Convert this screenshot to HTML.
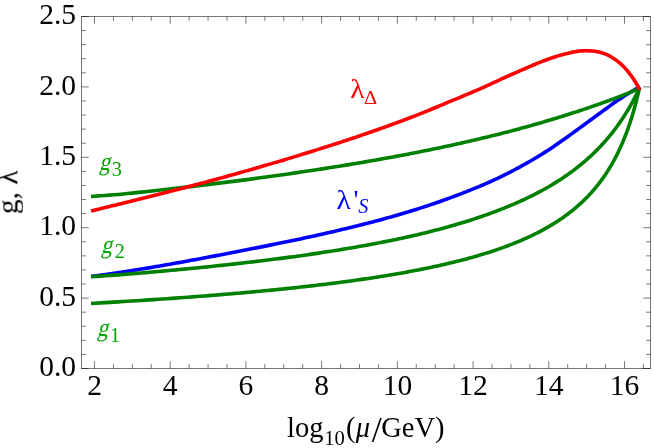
<!DOCTYPE html>
<html><head><meta charset="utf-8"><title>plot</title>
<style>
html,body{margin:0;padding:0;background:#fff;}
body{width:654px;height:448px;overflow:hidden;}
svg{display:block;}
text{font-family:"Liberation Serif",serif;font-size:29.5px;fill:#000;}
.txt{will-change:transform;}
.sub{font-size:20.2px;}
.it{font-style:italic;}
</style></head><body>
<svg width="654" height="448" viewBox="0 0 654 448">
<rect width="654" height="448" fill="#fff"/>
<g fill="none" stroke-width="3.6" stroke-linecap="butt" stroke-linejoin="round">
<path stroke="#0000ff" d="M91.00,276.42 L93.51,276.10 L96.01,275.78 L98.52,275.45 L101.03,275.11 L103.53,274.77 L106.04,274.42 L108.55,274.07 L111.05,273.72 L113.56,273.35 L116.07,272.99 L118.58,272.62 L121.08,272.24 L123.59,271.86 L126.10,271.48 L128.60,271.09 L131.11,270.70 L133.62,270.30 L136.12,269.90 L138.63,269.50 L141.14,269.09 L143.64,268.68 L146.15,268.27 L148.66,267.85 L151.16,267.43 L153.67,267.01 L156.18,266.58 L158.68,266.15 L161.19,265.72 L163.70,265.28 L166.21,264.85 L168.71,264.41 L171.22,263.96 L173.73,263.52 L176.23,263.07 L178.74,262.62 L181.25,262.17 L183.75,261.72 L186.26,261.26 L188.77,260.80 L191.27,260.34 L193.78,259.88 L196.29,259.42 L198.79,258.95 L201.30,258.48 L203.81,258.01 L206.32,257.54 L208.82,257.07 L211.33,256.60 L213.84,256.12 L216.34,255.64 L218.85,255.16 L221.36,254.68 L223.86,254.20 L226.37,253.72 L228.88,253.23 L231.38,252.75 L233.89,252.26 L236.40,251.78 L238.90,251.29 L241.41,250.81 L243.92,250.32 L246.42,249.83 L248.93,249.34 L251.44,248.84 L253.95,248.35 L256.45,247.86 L258.96,247.36 L261.47,246.86 L263.97,246.36 L266.48,245.86 L268.99,245.36 L271.49,244.86 L274.00,244.35 L276.51,243.84 L279.01,243.33 L281.52,242.82 L284.03,242.31 L286.53,241.79 L289.04,241.27 L291.55,240.75 L294.05,240.23 L296.56,239.70 L299.07,239.17 L301.58,238.64 L304.08,238.10 L306.59,237.56 L309.10,237.02 L311.60,236.47 L314.11,235.92 L316.62,235.37 L319.12,234.81 L321.63,234.25 L324.14,233.69 L326.64,233.12 L329.15,232.55 L331.66,231.97 L334.16,231.39 L336.67,230.81 L339.18,230.22 L341.68,229.62 L344.19,229.03 L346.70,228.43 L349.21,227.82 L351.71,227.21 L354.22,226.59 L356.73,225.97 L359.23,225.35 L361.74,224.72 L364.25,224.08 L366.75,223.44 L369.26,222.79 L371.77,222.14 L374.27,221.48 L376.78,220.81 L379.29,220.14 L381.79,219.46 L384.30,218.77 L386.81,218.08 L389.32,217.38 L391.82,216.68 L394.33,215.97 L396.84,215.25 L399.34,214.52 L401.85,213.78 L404.36,213.04 L406.86,212.29 L409.37,211.53 L411.88,210.76 L414.38,209.98 L416.89,209.20 L419.40,208.40 L421.90,207.60 L424.41,206.78 L426.92,205.96 L429.42,205.13 L431.93,204.28 L434.44,203.43 L436.95,202.56 L439.45,201.69 L441.96,200.80 L444.47,199.91 L446.97,199.01 L449.48,198.09 L451.99,197.17 L454.49,196.23 L457.00,195.29 L459.51,194.33 L462.01,193.36 L464.52,192.38 L467.03,191.39 L469.53,190.39 L472.04,189.37 L474.55,188.36 L477.05,187.34 L479.56,186.31 L482.07,185.26 L484.58,184.20 L487.08,183.12 L489.59,182.01 L492.10,180.87 L494.60,179.72 L497.11,178.55 L499.62,177.35 L502.12,176.14 L504.63,174.91 L507.14,173.65 L509.64,172.38 L512.15,171.08 L514.66,169.77 L517.16,168.43 L519.67,167.07 L522.18,165.70 L524.68,164.30 L527.19,162.88 L529.70,161.44 L532.21,159.98 L534.71,158.50 L537.22,157.01 L539.73,155.49 L542.23,153.95 L544.74,152.38 L547.25,150.80 L549.75,149.19 L552.26,147.53 L554.77,145.83 L557.27,144.08 L559.78,142.31 L562.29,140.52 L564.79,138.73 L567.30,136.94 L569.81,135.15 L572.32,133.34 L574.82,131.52 L577.33,129.70 L579.84,127.87 L582.34,126.04 L584.85,124.20 L587.36,122.37 L589.86,120.53 L592.37,118.69 L594.88,116.85 L597.38,115.02 L599.89,113.18 L602.40,111.35 L604.90,109.51 L607.41,107.68 L609.92,105.86 L612.42,104.06 L614.93,102.30 L617.44,100.56 L619.95,98.88 L622.45,97.23 L624.96,95.61 L627.47,94.02 L629.97,92.47 L632.48,90.95 L634.99,89.48 L637.49,88.04 L640.00,86.66"/>
<path stroke="#008000" d="M91.00,303.45 L95.65,303.19 L100.27,302.92 L104.88,302.66 L109.46,302.39 L114.02,302.12 L118.56,301.85 L123.07,301.57 L127.57,301.30 L132.04,301.02 L136.50,300.74 L140.93,300.45 L145.34,300.17 L149.73,299.88 L154.10,299.59 L158.44,299.30 L162.77,299.01 L167.07,298.71 L171.35,298.41 L175.61,298.11 L179.85,297.81 L184.07,297.50 L188.27,297.19 L192.45,296.88 L196.60,296.57 L200.74,296.25 L204.85,295.93 L208.94,295.61 L213.01,295.29 L217.06,294.96 L221.09,294.64 L225.09,294.30 L229.08,293.97 L233.05,293.63 L236.99,293.29 L240.91,292.95 L244.82,292.60 L248.70,292.26 L252.56,291.91 L256.40,291.55 L260.22,291.19 L264.01,290.83 L267.79,290.47 L271.55,290.10 L275.28,289.73 L279.00,289.36 L282.69,288.99 L286.36,288.61 L290.01,288.22 L293.65,287.84 L297.26,287.45 L300.85,287.06 L304.42,286.66 L307.97,286.26 L311.49,285.86 L315.00,285.45 L318.49,285.04 L321.95,284.63 L325.40,284.21 L328.83,283.79 L332.23,283.36 L335.62,282.94 L338.98,282.50 L342.32,282.07 L345.65,281.62 L348.95,281.18 L352.23,280.73 L355.49,280.28 L358.74,279.82 L361.96,279.36 L365.16,278.89 L368.34,278.42 L371.50,277.95 L374.64,277.47 L377.76,276.98 L380.86,276.50 L383.94,276.00 L387.00,275.51 L390.04,275.00 L393.06,274.50 L396.06,273.98 L399.04,273.47 L402.00,272.94 L404.94,272.42 L407.86,271.89 L410.76,271.35 L413.64,270.81 L416.50,270.26 L419.34,269.70 L422.16,269.14 L424.96,268.58 L427.74,268.01 L430.50,267.43 L433.24,266.85 L435.96,266.26 L438.66,265.67 L441.34,265.07 L444.00,264.46 L446.65,263.85 L449.27,263.23 L451.87,262.61 L454.46,261.98 L457.02,261.34 L459.56,260.70 L462.09,260.05 L464.60,259.39 L467.08,258.72 L469.55,258.05 L472.00,257.37 L474.42,256.69 L476.83,256.00 L479.22,255.30 L481.59,254.59 L483.94,253.87 L486.27,253.15 L488.59,252.42 L490.88,251.68 L493.15,250.94 L495.41,250.18 L497.64,249.42 L499.86,248.65 L502.06,247.87 L504.23,247.08 L506.39,246.29 L508.53,245.48 L510.66,244.67 L512.76,243.85 L514.84,243.02 L516.91,242.18 L518.95,241.33 L520.98,240.47 L522.99,239.60 L524.98,238.72 L526.95,237.84 L528.90,236.94 L530.84,236.03 L532.75,235.12 L534.65,234.19 L536.53,233.25 L538.38,232.30 L540.23,231.35 L542.05,230.38 L543.85,229.40 L545.64,228.41 L547.40,227.41 L549.15,226.39 L550.88,225.37 L552.60,224.34 L554.29,223.29 L555.97,222.23 L557.62,221.16 L559.26,220.08 L560.88,218.99 L562.49,217.89 L564.07,216.77 L565.64,215.64 L567.19,214.50 L568.72,213.35 L570.23,212.18 L571.73,211.00 L573.21,209.81 L574.67,208.61 L576.11,207.40 L577.53,206.17 L578.94,204.93 L580.33,203.67 L581.70,202.41 L583.05,201.13 L584.39,199.84 L585.71,198.53 L587.01,197.21 L588.29,195.88 L589.56,194.54 L590.81,193.18 L592.04,191.81 L593.26,190.43 L594.45,189.04 L595.63,187.63 L596.80,186.21 L597.94,184.78 L599.07,183.33 L600.18,181.88 L601.28,180.41 L602.36,178.93 L603.42,177.44 L604.46,175.94 L605.49,174.42 L606.50,172.90 L607.49,171.37 L608.47,169.82 L609.43,168.27 L610.37,166.70 L611.30,165.13 L612.21,163.55 L613.11,161.96 L613.99,160.37 L614.85,158.77 L615.69,157.16 L616.52,155.54 L617.34,153.92 L618.13,152.30 L618.92,150.67 L619.68,149.04 L620.43,147.41 L621.16,145.77 L621.88,144.14 L622.58,142.50 L623.27,140.87 L623.94,139.24 L624.59,137.62 L625.23,136.00 L625.86,134.38 L626.47,132.77 L627.06,131.17 L627.64,129.58 L628.20,128.00 L628.75,126.44 L629.28,124.88 L629.80,123.34 L630.30,121.82 L630.79,120.31 L631.26,118.82 L631.72,117.36 L632.16,115.91 L632.59,114.49 L633.00,113.10 L633.40,111.73 L633.79,110.38 L634.16,109.07 L634.52,107.79 L634.86,106.54 L635.19,105.32 L635.51,104.14 L635.81,103.00 L636.10,101.89 L636.37,100.82 L636.64,99.79 L636.88,98.80 L637.12,97.86 L637.34,96.96 L637.55,96.10 L637.75,95.29 L637.93,94.52 L638.10,93.80 L638.26,93.13 L638.41,92.50 L638.54,91.92 L638.66,91.39 L638.77,90.91 L638.87,90.48 L638.96,90.09 L639.04,89.75 L639.11,89.46 L639.16,89.21 L639.21,89.00 L639.24,88.84 L639.27,88.72 L639.29,88.64 L639.30,88.60 L639.30,88.59"/>
<path stroke="#008000" d="M91.00,276.70 L95.65,276.39 L100.27,276.09 L104.88,275.78 L109.46,275.47 L114.02,275.15 L118.56,274.83 L123.07,274.49 L127.57,274.14 L132.04,273.77 L136.50,273.40 L140.93,273.02 L145.34,272.65 L149.73,272.27 L154.10,271.89 L158.44,271.50 L162.77,271.12 L167.07,270.73 L171.35,270.33 L175.61,269.94 L179.85,269.54 L184.07,269.14 L188.27,268.74 L192.45,268.33 L196.60,267.92 L200.74,267.51 L204.85,267.09 L208.94,266.67 L213.01,266.25 L217.06,265.83 L221.09,265.40 L225.09,264.97 L229.08,264.54 L233.05,264.10 L236.99,263.66 L240.91,263.22 L244.82,262.77 L248.70,262.32 L252.56,261.87 L256.40,261.41 L260.22,260.95 L264.01,260.49 L267.79,260.02 L271.55,259.55 L275.28,259.08 L279.00,258.60 L282.69,258.12 L286.36,257.64 L290.01,257.15 L293.65,256.66 L297.26,256.17 L300.85,255.67 L304.42,255.16 L307.97,254.66 L311.49,254.15 L315.00,253.63 L318.49,253.12 L321.95,252.59 L325.40,252.07 L328.83,251.54 L332.23,251.01 L335.62,250.47 L338.98,249.93 L342.32,249.38 L345.65,248.83 L348.95,248.27 L352.23,247.72 L355.49,247.15 L358.74,246.58 L361.96,246.01 L365.16,245.44 L368.34,244.86 L371.50,244.27 L374.64,243.68 L377.76,243.09 L380.86,242.49 L383.94,241.88 L387.00,241.28 L390.04,240.66 L393.06,240.04 L396.06,239.42 L399.04,238.79 L402.00,238.16 L404.94,237.52 L407.86,236.88 L410.76,236.23 L413.64,235.57 L416.50,234.91 L419.34,234.24 L422.16,233.57 L424.96,232.89 L427.74,232.20 L430.50,231.51 L433.24,230.81 L435.96,230.11 L438.66,229.40 L441.34,228.68 L444.00,227.96 L446.65,227.24 L449.27,226.51 L451.87,225.77 L454.46,225.02 L457.02,224.27 L459.56,223.52 L462.09,222.76 L464.60,221.99 L467.08,221.22 L469.55,220.44 L472.00,219.66 L474.42,218.87 L476.83,218.07 L479.22,217.27 L481.59,216.47 L483.94,215.65 L486.27,214.84 L488.59,214.01 L490.88,213.18 L493.15,212.34 L495.41,211.50 L497.64,210.65 L499.86,209.80 L502.06,208.94 L504.23,208.08 L506.39,207.20 L508.53,206.33 L510.66,205.44 L512.76,204.55 L514.84,203.66 L516.91,202.76 L518.95,201.85 L520.98,200.93 L522.99,200.01 L524.98,199.09 L526.95,198.15 L528.90,197.22 L530.84,196.27 L532.75,195.32 L534.65,194.36 L536.53,193.39 L538.38,192.42 L540.23,191.44 L542.05,190.46 L543.85,189.46 L545.64,188.47 L547.40,187.46 L549.15,186.45 L550.88,185.44 L552.60,184.41 L554.29,183.38 L555.97,182.35 L557.62,181.31 L559.26,180.26 L560.88,179.21 L562.49,178.15 L564.07,177.08 L565.64,176.01 L567.19,174.94 L568.72,173.86 L570.23,172.77 L571.73,171.68 L573.21,170.58 L574.67,169.48 L576.11,168.37 L577.53,167.26 L578.94,166.14 L580.33,165.02 L581.70,163.90 L583.05,162.77 L584.39,161.63 L585.71,160.50 L587.01,159.36 L588.29,158.21 L589.56,157.07 L590.81,155.92 L592.04,154.77 L593.26,153.61 L594.45,152.46 L595.63,151.30 L596.80,150.14 L597.94,148.98 L599.07,147.81 L600.18,146.65 L601.28,145.49 L602.36,144.32 L603.42,143.16 L604.46,142.00 L605.49,140.84 L606.50,139.68 L607.49,138.52 L608.47,137.36 L609.43,136.21 L610.37,135.05 L611.30,133.91 L612.21,132.76 L613.11,131.62 L613.99,130.49 L614.85,129.36 L615.69,128.23 L616.52,127.11 L617.34,126.00 L618.13,124.90 L618.92,123.80 L619.68,122.71 L620.43,121.63 L621.16,120.55 L621.88,119.49 L622.58,118.44 L623.27,117.39 L623.94,116.36 L624.59,115.34 L625.23,114.34 L625.86,113.34 L626.47,112.36 L627.06,111.39 L627.64,110.44 L628.20,109.50 L628.75,108.58 L629.28,107.67 L629.80,106.78 L630.30,105.90 L630.79,105.05 L631.26,104.21 L631.72,103.39 L632.16,102.58 L632.59,101.80 L633.00,101.04 L633.40,100.30 L633.79,99.57 L634.16,98.87 L634.52,98.19 L634.86,97.54 L635.19,96.90 L635.51,96.29 L635.81,95.70 L636.10,95.13 L636.37,94.59 L636.64,94.07 L636.88,93.57 L637.12,93.10 L637.34,92.65 L637.55,92.22 L637.75,91.82 L637.93,91.45 L638.10,91.09 L638.26,90.77 L638.41,90.46 L638.54,90.18 L638.66,89.93 L638.77,89.70 L638.87,89.49 L638.96,89.30 L639.04,89.14 L639.11,89.00 L639.16,88.88 L639.21,88.79 L639.24,88.71 L639.27,88.65 L639.29,88.62 L639.30,88.60 L639.30,88.59"/>
<path stroke="#008000" d="M91.00,196.44 L95.65,196.12 L100.27,195.80 L104.88,195.48 L109.46,195.15 L114.02,194.81 L118.56,194.43 L123.07,194.01 L127.57,193.56 L132.04,193.09 L136.50,192.62 L140.93,192.15 L145.34,191.68 L149.73,191.20 L154.10,190.73 L158.44,190.25 L162.77,189.77 L167.07,189.29 L171.35,188.81 L175.61,188.32 L179.85,187.84 L184.07,187.35 L188.27,186.86 L192.45,186.37 L196.60,185.88 L200.74,185.39 L204.85,184.89 L208.94,184.40 L213.01,183.90 L217.06,183.40 L221.09,182.90 L225.09,182.40 L229.08,181.89 L233.05,181.39 L236.99,180.88 L240.91,180.38 L244.82,179.87 L248.70,179.36 L252.56,178.85 L256.40,178.33 L260.22,177.82 L264.01,177.30 L267.79,176.79 L271.55,176.27 L275.28,175.75 L279.00,175.23 L282.69,174.71 L286.36,174.19 L290.01,173.66 L293.65,173.14 L297.26,172.61 L300.85,172.09 L304.42,171.56 L307.97,171.03 L311.49,170.50 L315.00,169.97 L318.49,169.43 L321.95,168.90 L325.40,168.37 L328.83,167.83 L332.23,167.30 L335.62,166.76 L338.98,166.22 L342.32,165.68 L345.65,165.14 L348.95,164.60 L352.23,164.06 L355.49,163.51 L358.74,162.97 L361.96,162.42 L365.16,161.88 L368.34,161.33 L371.50,160.78 L374.64,160.23 L377.76,159.68 L380.86,159.13 L383.94,158.58 L387.00,158.03 L390.04,157.48 L393.06,156.93 L396.06,156.37 L399.04,155.82 L402.00,155.26 L404.94,154.70 L407.86,154.15 L410.76,153.59 L413.64,153.03 L416.50,152.47 L419.34,151.91 L422.16,151.35 L424.96,150.79 L427.74,150.22 L430.50,149.66 L433.24,149.10 L435.96,148.53 L438.66,147.97 L441.34,147.40 L444.00,146.84 L446.65,146.27 L449.27,145.71 L451.87,145.14 L454.46,144.58 L457.02,144.01 L459.56,143.45 L462.09,142.88 L464.60,142.32 L467.08,141.75 L469.55,141.19 L472.00,140.62 L474.42,140.06 L476.83,139.50 L479.22,138.93 L481.59,138.37 L483.94,137.81 L486.27,137.24 L488.59,136.68 L490.88,136.12 L493.15,135.56 L495.41,135.00 L497.64,134.45 L499.86,133.89 L502.06,133.33 L504.23,132.78 L506.39,132.22 L508.53,131.67 L510.66,131.12 L512.76,130.57 L514.84,130.01 L516.91,129.46 L518.95,128.91 L520.98,128.36 L522.99,127.82 L524.98,127.27 L526.95,126.72 L528.90,126.18 L530.84,125.63 L532.75,125.09 L534.65,124.55 L536.53,124.02 L538.38,123.48 L540.23,122.94 L542.05,122.41 L543.85,121.88 L545.64,121.35 L547.40,120.83 L549.15,120.31 L550.88,119.79 L552.60,119.27 L554.29,118.75 L555.97,118.24 L557.62,117.73 L559.26,117.23 L560.88,116.73 L562.49,116.23 L564.07,115.73 L565.64,115.24 L567.19,114.75 L568.72,114.26 L570.23,113.78 L571.73,113.30 L573.21,112.82 L574.67,112.35 L576.11,111.88 L577.53,111.42 L578.94,110.96 L580.33,110.50 L581.70,110.05 L583.05,109.60 L584.39,109.16 L585.71,108.72 L587.01,108.28 L588.29,107.84 L589.56,107.41 L590.81,106.98 L592.04,106.56 L593.26,106.14 L594.45,105.73 L595.63,105.31 L596.80,104.91 L597.94,104.50 L599.07,104.11 L600.18,103.71 L601.28,103.32 L602.36,102.93 L603.42,102.55 L604.46,102.18 L605.49,101.80 L606.50,101.43 L607.49,101.07 L608.47,100.71 L609.43,100.36 L610.37,100.01 L611.30,99.66 L612.21,99.32 L613.11,98.99 L613.99,98.66 L614.85,98.33 L615.69,98.01 L616.52,97.70 L617.34,97.39 L618.13,97.08 L618.92,96.78 L619.68,96.49 L620.43,96.20 L621.16,95.91 L621.88,95.64 L622.58,95.36 L623.27,95.09 L623.94,94.83 L624.59,94.57 L625.23,94.32 L625.86,94.07 L626.47,93.83 L627.06,93.60 L627.64,93.37 L628.20,93.14 L628.75,92.92 L629.28,92.71 L629.80,92.50 L630.30,92.30 L630.79,92.10 L631.26,91.91 L631.72,91.72 L632.16,91.54 L632.59,91.37 L633.00,91.20 L633.40,91.03 L633.79,90.88 L634.16,90.72 L634.52,90.58 L634.86,90.44 L635.19,90.30 L635.51,90.17 L635.81,90.04 L636.10,89.93 L636.37,89.81 L636.64,89.70 L636.88,89.60 L637.12,89.50 L637.34,89.41 L637.55,89.32 L637.75,89.24 L637.93,89.16 L638.10,89.09 L638.26,89.03 L638.41,88.96 L638.54,88.91 L638.66,88.86 L638.77,88.81 L638.87,88.77 L638.96,88.73 L639.04,88.70 L639.11,88.67 L639.16,88.65 L639.21,88.63 L639.24,88.61 L639.27,88.60 L639.29,88.59 L639.30,88.59 L639.30,88.59"/>
<path stroke="#ff0000" d="M91.00,211.10 L93.51,210.48 L96.01,209.85 L98.52,209.23 L101.03,208.60 L103.53,207.98 L106.04,207.36 L108.55,206.74 L111.05,206.12 L113.56,205.50 L116.07,204.88 L118.58,204.27 L121.08,203.65 L123.59,203.03 L126.10,202.41 L128.60,201.79 L131.11,201.17 L133.62,200.55 L136.12,199.93 L138.63,199.31 L141.14,198.69 L143.64,198.07 L146.15,197.44 L148.66,196.82 L151.16,196.19 L153.67,195.56 L156.18,194.93 L158.68,194.30 L161.19,193.67 L163.70,193.04 L166.21,192.40 L168.71,191.76 L171.22,191.12 L173.73,190.48 L176.23,189.84 L178.74,189.19 L181.25,188.54 L183.75,187.89 L186.26,187.24 L188.77,186.59 L191.27,185.93 L193.78,185.27 L196.29,184.61 L198.79,183.95 L201.30,183.28 L203.81,182.62 L206.32,181.95 L208.82,181.27 L211.33,180.60 L213.84,179.92 L216.34,179.24 L218.85,178.56 L221.36,177.87 L223.86,177.18 L226.37,176.49 L228.88,175.80 L231.38,175.11 L233.89,174.41 L236.40,173.71 L238.90,173.01 L241.41,172.30 L243.92,171.59 L246.42,170.88 L248.93,170.17 L251.44,169.45 L253.95,168.73 L256.45,168.01 L258.96,167.29 L261.47,166.56 L263.97,165.83 L266.48,165.10 L268.99,164.37 L271.49,163.63 L274.00,162.89 L276.51,162.15 L279.01,161.40 L281.52,160.66 L284.03,159.91 L286.53,159.15 L289.04,158.40 L291.55,157.64 L294.05,156.88 L296.56,156.11 L299.07,155.35 L301.58,154.58 L304.08,153.80 L306.59,153.03 L309.10,152.25 L311.60,151.47 L314.11,150.69 L316.62,149.90 L319.12,149.11 L321.63,148.31 L324.14,147.52 L326.64,146.72 L329.15,145.91 L331.66,145.11 L334.16,144.30 L336.67,143.48 L339.18,142.67 L341.68,141.85 L344.19,141.02 L346.70,140.20 L349.21,139.36 L351.71,138.53 L354.22,137.69 L356.73,136.85 L359.23,136.00 L361.74,135.15 L364.25,134.29 L366.75,133.43 L369.26,132.57 L371.77,131.70 L374.27,130.82 L376.78,129.94 L379.29,129.06 L381.79,128.17 L384.30,127.27 L386.81,126.37 L389.32,125.47 L391.82,124.55 L394.33,123.64 L396.84,122.71 L399.34,121.78 L401.85,120.85 L404.36,119.90 L406.86,118.95 L409.37,117.99 L411.88,117.03 L414.38,116.06 L416.89,115.08 L419.40,114.09 L421.90,113.10 L424.41,112.10 L426.92,111.09 L429.42,110.07 L431.93,109.04 L434.44,108.01 L436.95,106.97 L439.45,105.91 L441.96,104.86 L444.47,103.79 L446.97,102.72 L449.48,101.67 L451.99,100.64 L454.49,99.61 L457.00,98.58 L459.51,97.55 L462.01,96.51 L464.52,95.45 L467.03,94.39 L469.53,93.33 L472.04,92.28 L474.55,91.21 L477.05,90.14 L479.56,89.06 L482.07,87.95 L484.58,86.83 L487.08,85.69 L489.59,84.53 L492.10,83.38 L494.60,82.22 L497.11,81.06 L499.62,79.90 L502.12,78.74 L504.63,77.59 L507.14,76.46 L509.64,75.34 L512.15,74.23 L514.66,73.12 L517.16,72.03 L519.67,70.94 L522.18,69.85 L524.68,68.77 L527.19,67.68 L529.70,66.60 L532.21,65.53 L534.71,64.48 L537.22,63.44 L539.73,62.42 L542.23,61.43 L544.74,60.47 L547.25,59.54 L549.75,58.64 L552.26,57.78 L554.77,56.95 L557.27,56.15 L559.78,55.40 L562.29,54.69 L564.79,54.02 L567.30,53.40 L569.81,52.80 L572.32,52.26 L574.82,51.77 L577.33,51.37 L579.84,51.07 L582.34,50.86 L584.85,50.76 L587.36,50.75 L589.86,50.84 L592.37,51.02 L594.88,51.31 L597.38,51.72 L599.89,52.27 L602.40,52.98 L604.90,53.86 L607.41,54.93 L609.92,56.19 L612.42,57.64 L614.93,59.28 L617.44,61.13 L619.95,63.19 L622.45,65.50 L624.96,68.07 L627.47,70.93 L629.97,74.07 L632.48,77.51 L634.99,81.30 L637.49,85.51 L640.00,90.16"/>
</g>
<g stroke="#000" stroke-opacity="0.53" stroke-width="1" fill="none">
<rect x="81.5" y="16.5" width="569.0" height="352.0"/>
<path d="M94.50,368.5V361.20"/>
<path d="M94.50,16.5V23.80"/>
<path d="M113.43,368.5V364.10"/>
<path d="M113.43,16.5V20.90"/>
<path d="M132.36,368.5V364.10"/>
<path d="M132.36,16.5V20.90"/>
<path d="M151.29,368.5V364.10"/>
<path d="M151.29,16.5V20.90"/>
<path d="M170.21,368.5V361.20"/>
<path d="M170.21,16.5V23.80"/>
<path d="M189.14,368.5V364.10"/>
<path d="M189.14,16.5V20.90"/>
<path d="M208.07,368.5V364.10"/>
<path d="M208.07,16.5V20.90"/>
<path d="M227.00,368.5V364.10"/>
<path d="M227.00,16.5V20.90"/>
<path d="M245.93,368.5V361.20"/>
<path d="M245.93,16.5V23.80"/>
<path d="M264.86,368.5V364.10"/>
<path d="M264.86,16.5V20.90"/>
<path d="M283.78,368.5V364.10"/>
<path d="M283.78,16.5V20.90"/>
<path d="M302.71,368.5V364.10"/>
<path d="M302.71,16.5V20.90"/>
<path d="M321.64,368.5V361.20"/>
<path d="M321.64,16.5V23.80"/>
<path d="M340.57,368.5V364.10"/>
<path d="M340.57,16.5V20.90"/>
<path d="M359.50,368.5V364.10"/>
<path d="M359.50,16.5V20.90"/>
<path d="M378.43,368.5V364.10"/>
<path d="M378.43,16.5V20.90"/>
<path d="M397.36,368.5V361.20"/>
<path d="M397.36,16.5V23.80"/>
<path d="M416.28,368.5V364.10"/>
<path d="M416.28,16.5V20.90"/>
<path d="M435.21,368.5V364.10"/>
<path d="M435.21,16.5V20.90"/>
<path d="M454.14,368.5V364.10"/>
<path d="M454.14,16.5V20.90"/>
<path d="M473.07,368.5V361.20"/>
<path d="M473.07,16.5V23.80"/>
<path d="M492.00,368.5V364.10"/>
<path d="M492.00,16.5V20.90"/>
<path d="M510.93,368.5V364.10"/>
<path d="M510.93,16.5V20.90"/>
<path d="M529.86,368.5V364.10"/>
<path d="M529.86,16.5V20.90"/>
<path d="M548.78,368.5V361.20"/>
<path d="M548.78,16.5V23.80"/>
<path d="M567.71,368.5V364.10"/>
<path d="M567.71,16.5V20.90"/>
<path d="M586.64,368.5V364.10"/>
<path d="M586.64,16.5V20.90"/>
<path d="M605.57,368.5V364.10"/>
<path d="M605.57,16.5V20.90"/>
<path d="M624.50,368.5V361.20"/>
<path d="M624.50,16.5V23.80"/>
<path d="M643.43,368.5V364.10"/>
<path d="M643.43,16.5V20.90"/>
<path d="M81.5,368.50H88.80"/>
<path d="M650.5,368.50H643.20"/>
<path d="M81.5,354.42H85.90"/>
<path d="M650.5,354.42H646.10"/>
<path d="M81.5,340.34H85.90"/>
<path d="M650.5,340.34H646.10"/>
<path d="M81.5,326.26H85.90"/>
<path d="M650.5,326.26H646.10"/>
<path d="M81.5,312.18H85.90"/>
<path d="M650.5,312.18H646.10"/>
<path d="M81.5,298.10H88.80"/>
<path d="M650.5,298.10H643.20"/>
<path d="M81.5,284.02H85.90"/>
<path d="M650.5,284.02H646.10"/>
<path d="M81.5,269.94H85.90"/>
<path d="M650.5,269.94H646.10"/>
<path d="M81.5,255.86H85.90"/>
<path d="M650.5,255.86H646.10"/>
<path d="M81.5,241.78H85.90"/>
<path d="M650.5,241.78H646.10"/>
<path d="M81.5,227.70H88.80"/>
<path d="M650.5,227.70H643.20"/>
<path d="M81.5,213.62H85.90"/>
<path d="M650.5,213.62H646.10"/>
<path d="M81.5,199.54H85.90"/>
<path d="M650.5,199.54H646.10"/>
<path d="M81.5,185.46H85.90"/>
<path d="M650.5,185.46H646.10"/>
<path d="M81.5,171.38H85.90"/>
<path d="M650.5,171.38H646.10"/>
<path d="M81.5,157.30H88.80"/>
<path d="M650.5,157.30H643.20"/>
<path d="M81.5,143.22H85.90"/>
<path d="M650.5,143.22H646.10"/>
<path d="M81.5,129.14H85.90"/>
<path d="M650.5,129.14H646.10"/>
<path d="M81.5,115.06H85.90"/>
<path d="M650.5,115.06H646.10"/>
<path d="M81.5,100.98H85.90"/>
<path d="M650.5,100.98H646.10"/>
<path d="M81.5,86.90H88.80"/>
<path d="M650.5,86.90H643.20"/>
<path d="M81.5,72.82H85.90"/>
<path d="M650.5,72.82H646.10"/>
<path d="M81.5,58.74H85.90"/>
<path d="M650.5,58.74H646.10"/>
<path d="M81.5,44.66H85.90"/>
<path d="M650.5,44.66H646.10"/>
<path d="M81.5,30.58H85.90"/>
<path d="M650.5,30.58H646.10"/>
<path d="M81.5,16.50H88.80"/>
<path d="M650.5,16.50H643.20"/>
</g>
<g class="txt">
<text x="94.5" y="395.1" text-anchor="middle">2</text>
<text x="170.2" y="395.1" text-anchor="middle">4</text>
<text x="245.9" y="395.1" text-anchor="middle">6</text>
<text x="321.6" y="395.1" text-anchor="middle">8</text>
<text x="397.4" y="395.1" text-anchor="middle">10</text>
<text x="473.1" y="395.1" text-anchor="middle">12</text>
<text x="548.8" y="395.1" text-anchor="middle">14</text>
<text x="624.5" y="395.1" text-anchor="middle">16</text>
<text x="76.0" y="376.2" text-anchor="end">0.0</text>
<text x="76.0" y="305.8" text-anchor="end">0.5</text>
<text x="76.0" y="235.4" text-anchor="end">1.0</text>
<text x="76.0" y="165.0" text-anchor="end">1.5</text>
<text x="76.0" y="94.6" text-anchor="end">2.0</text>
<text x="76.0" y="24.2" text-anchor="end">2.5</text>
<text transform="translate(98.90,170.35) skewX(-14) scale(0.86,1)" style="font-size:25.4px;fill:#00a600">g</text>
<text x="111.63" y="175.90" style="font-size:20.3px;fill:#00a600;">3</text>
<text transform="translate(100.90,252.55) skewX(-14) scale(0.86,1)" style="font-size:25.4px;fill:#00a600">g</text>
<text x="114.87" y="258.10" style="font-size:20.3px;fill:#00a600;">2</text>
<text transform="translate(97.00,335.95) skewX(-14) scale(0.86,1)" style="font-size:25.4px;fill:#00a600">g</text>
<text x="110.07" y="341.50" style="font-size:20.3px;fill:#00a600;">1</text>
<text transform="translate(350.32,98.10) scale(1.08,1)" style="font-size:27.3px;fill:#ff0000;">λ</text>
<text transform="translate(364.02,103.60) scale(1.06,1)" style="font-size:19.4px;fill:#ff0000;">Δ</text>
<text transform="translate(336.42,208.60) scale(1.08,1)" style="font-size:27.3px;fill:#0000ff;">λ</text>
<text x="353.62" y="208.60" style="font-size:28px;fill:#0000ff;">'</text>
<text x="358.36" y="212.80" style="font-size:20.3px;font-style:italic;fill:#0000ff;">S</text>
<text x="287.03" y="437.40" style="font-size:28.5px;">log</text>
<text x="324.29" y="444.60" style="font-size:20.6px;">10</text>
<text x="346.05" y="437.40" style="font-size:28.5px;">(</text>
<text x="355.63" y="437.40" style="font-size:28.5px;font-style:italic;">μ</text>
<text x="371.70" y="441.70" style="font-size:36px;">/</text>
<text x="381.25" y="437.40" style="font-size:28.5px;">GeV)</text>
<text transform="translate(17.4,214.2) rotate(-90)" x="0" y="0" style="font-size:29.5px">g, λ</text>
</g>
</svg>
</body></html>
